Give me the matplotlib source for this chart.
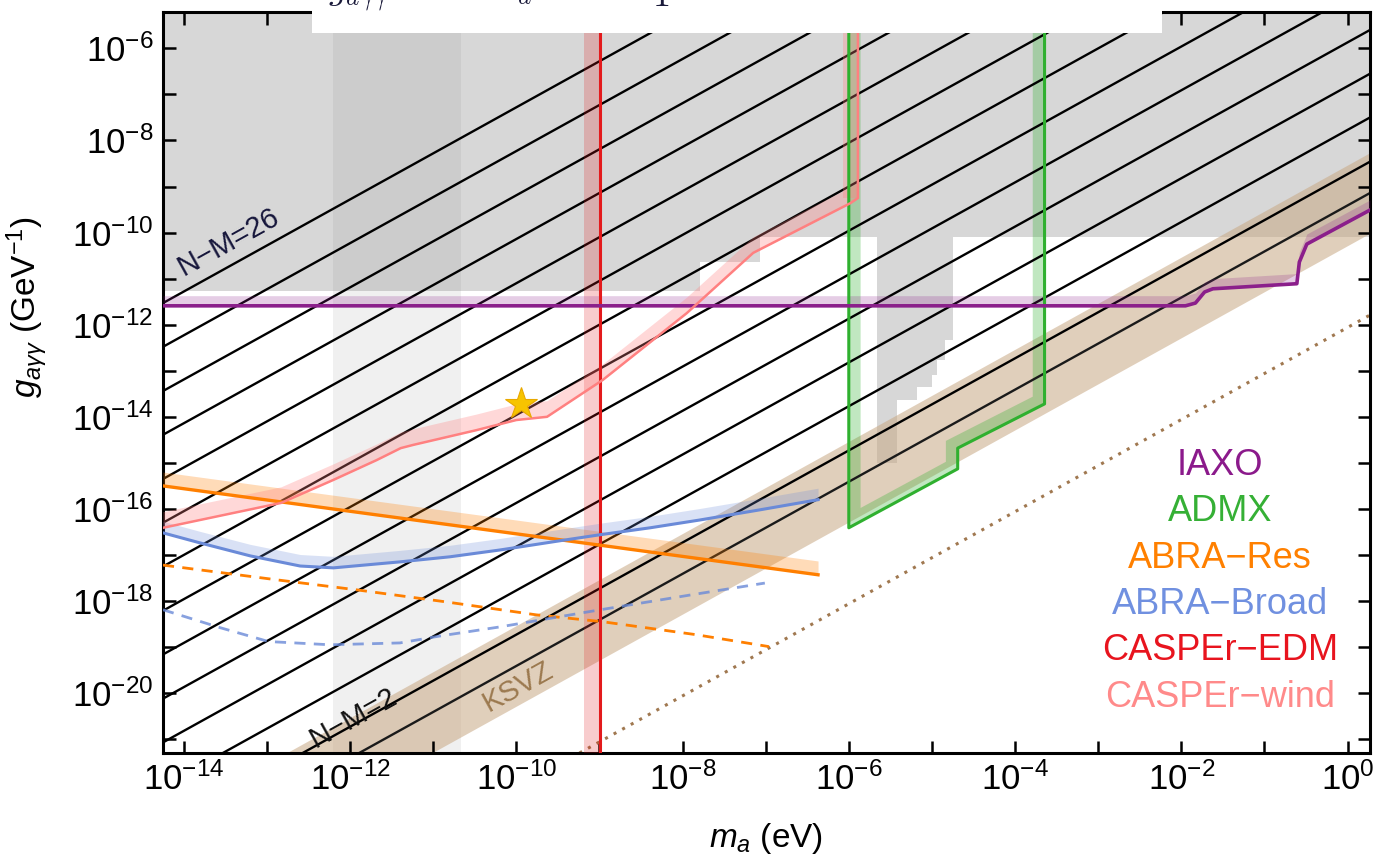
import numpy as np
import matplotlib
matplotlib.use("Agg")
import matplotlib.pyplot as plt
from matplotlib.patches import Rectangle, Polygon
from matplotlib.ticker import FixedLocator, FuncFormatter

plt.rcParams['font.family'] = ['Liberation Sans', 'DejaVu Sans']
plt.rcParams['mathtext.fontset'] = 'custom'
plt.rcParams['mathtext.rm'] = 'Liberation Sans'
plt.rcParams['mathtext.it'] = 'Liberation Sans:italic'
plt.rcParams['mathtext.bf'] = 'Liberation Sans:bold'

# everything below is log10(m_a / eV) and log10(g_agg / GeV^-1)
x_range = (-14.25, 0.27)
y_range = (-21.3, -5.21)

# g = 10**c * m_a  lines
nm_labels = [2, 4, 6, 8, 10, 12, 14, 16, 18, 20, 22, 24, 26]
nm_offsets = [-8.73, -7.77, -6.82, -5.87, -4.91, -3.96, -3.00, -2.05, -1.10, -0.14, 0.81, 1.77, 2.72]
ksvz_offset = -9.41
ksvz_band = (-10.30, -8.55)
dotted_offset = -12.06

# excluded (grey) region: floor between edges
grey_edges = [-14.25, -7.79, -7.07, -5.66, -5.42, -5.18, -5.00, -4.94, -4.84, -4.75, 0.27]
grey_floor = [-11.27, -10.64, -10.10, -15.00, -13.63, -13.35, -13.09, -12.77, -12.33, -10.10]
grey_band_m = [-12.20, -10.67]

# IAXO
iaxo_m = [-14.25, -1.95, -1.83, -1.72, -1.62, -0.61, -0.58, -0.49, 0.27]
iaxo_g = [-11.59, -11.59, -11.53, -11.29, -11.22, -11.11, -10.64, -10.25, -9.51]

# ADMX outline
admx_m = [-6.0, -6.0, -4.69, -4.69, -3.645, -3.645]
admx_g = [-4.0, -16.41, -15.13, -14.68, -13.72, -4.0]

# ABRA resonant (solid) and future (dashed)
abra_res_m = [-14.25, -6.37]
abra_res_g = [-15.50, -17.43]
abra_res2_m = [-14.25, -12.88, -11.91, -10.84, -9.76, -8.96, -7.84, -6.96]
abra_res2_g = [-17.22, -17.54, -17.76, -18.02, -18.30, -18.45, -18.73, -18.99]

# ABRA broadband
abra_br_m = [-14.25, -13.80, -13.20, -12.60, -12.20, -11.40, -10.80, -10.19, -9.47, -8.99, -8.39, -7.79, -7.07, -6.37]
abra_br_g = [-16.52, -16.74, -17.02, -17.24, -17.28, -17.15, -17.04, -16.89, -16.69, -16.56, -16.41, -16.24, -16.02, -15.80]
abra_br2_m = [-14.25, -13.56, -12.98, -12.24, -11.40, -10.92, -10.19, -8.99, -7.91, -7.01]
abra_br2_g = [-18.19, -18.58, -18.88, -18.95, -18.91, -18.76, -18.56, -18.19, -17.87, -17.61]

# CASPEr
edm_m = -8.99
wind_m = [-14.25, -12.83, -12.20, -11.68, -11.39, -11.24, -10.48, -10.00, -9.63, -8.96, -7.95, -7.15, -5.98, -5.89]
wind_g = [-16.41, -15.87, -15.37, -14.94, -14.68, -14.61, -14.29, -14.07, -14.00, -13.20, -11.75, -10.44, -9.36, -9.25]
wind_top = -5.0

star_m, star_g = -9.94, -13.72

legend_names = ["IAXO", "ADMX", "ABRA\u2212Res", "ABRA\u2212Broad", "CASPEr\u2212EDM", "CASPEr\u2212wind"]
legend_colors = ["#8b1a8b", "#35b035", "#ff8000", "#7090e0", "#e8141e", "#ff8a8a"]

c_iaxo = "#8b1f8b"
c_admx = "#2fb02f"
c_res = "#ff7f00"
c_broad = "#6a8ad8"
c_edm = "#e31a1c"
c_wind = "#ff8080"
c_ksvz = "#c8a884"


def p(a):
    return 10.0 ** np.asarray(a, dtype=float)


fig = plt.figure(figsize=(13.74, 8.63), dpi=100)
ax = fig.add_axes([163 / 1374, 1 - 753 / 863, 1207 / 1374, 741 / 863])
ax.set_xscale("log")
ax.set_yscale("log")
ax.set_xlim(p(x_range[0]), p(x_range[1]))
ax.set_ylim(p(y_range[0]), p(y_range[1]))

# grey excluded regions
ax.stairs(p(grey_floor), p(grey_edges), baseline=1e-4, fill=True, color="#d7d7d7", lw=0, zorder=0.5)
ax.fill_between(p(grey_band_m), p(grey_floor[0]), 1e-4, color="#cccccc", lw=0, zorder=0.6)
ax.fill_between(p(grey_band_m), 1e-23, p(grey_floor[0]), color="#f0f0f0", lw=0, zorder=0.6)

# KSVZ band
xx = p([-16, 2])
ax.fill_between(xx, xx * p(ksvz_band[0]), xx * p(ksvz_band[1]), color=c_ksvz, alpha=0.55, lw=0, zorder=1)

# N-M lines, KSVZ line, dotted line
for c in nm_offsets:
    ax.axline((1.0, p(c)), (10.0, p(c + 1)), color="k", lw=1.7, zorder=2.5)
ax.axline((1.0, p(ksvz_offset)), (10.0, p(ksvz_offset + 1)), color="#1a1a1a", lw=1.7, zorder=2.5)
ax.axline((1.0, p(dotted_offset)), (10.0, p(dotted_offset + 1)), color="#a07850", lw=2.2,
          ls=(0, (1, 2.2)), zorder=2.5)

# ADMX
verts = np.column_stack([p(admx_m), p(admx_g)])
clip = Polygon(verts, closed=True, transform=ax.transData)
pale = Polygon(verts, closed=True, fill=False, ec=c_admx, lw=17, alpha=0.3, zorder=2)
ax.add_patch(pale)
pale.set_clip_path(clip)
ax.plot(p(admx_m), p(admx_g), color=c_admx, lw=2.2, zorder=4)

# CASPEr-EDM
ax.axvspan(p(edm_m - 0.2), p(edm_m), color=c_edm, alpha=0.22, lw=0, zorder=3)
ax.axvline(p(edm_m), color=c_edm, lw=2.2, zorder=4)

# IAXO
ax.fill_between(p(iaxo_m), p(iaxo_g), p(np.array(iaxo_g) + 0.22), color=c_iaxo, alpha=0.22, lw=0, zorder=3)
ax.plot(p(iaxo_m), p(iaxo_g), color=c_iaxo, lw=2.6, zorder=4)

# ABRA
ax.fill_between(p(abra_res_m), p(abra_res_g), p(np.array(abra_res_g) + 0.3), color=c_res, alpha=0.28, lw=0, zorder=3)
ax.plot(p(abra_res_m), p(abra_res_g), color=c_res, lw=2.4, zorder=4)
ax.plot(p(abra_res2_m), p(abra_res2_g), color=c_res, lw=2.0, ls=(0, (4, 3)), zorder=4)
ax.fill_between(p(abra_br_m), p(abra_br_g), p(np.array(abra_br_g) + 0.25), color=c_broad, alpha=0.25, lw=0, zorder=3)
ax.plot(p(abra_br_m), p(abra_br_g), color=c_broad, lw=2.2, zorder=4)
ax.plot(p(abra_br2_m), p(abra_br2_g), color=c_broad, lw=2.0, alpha=0.8, ls=(0, (4, 3)), zorder=4)

# CASPEr-wind
ax.fill_between(p(wind_m), p(wind_g), p(np.array(wind_g) + 0.35), color=c_wind, alpha=0.3, lw=0, zorder=3)
ax.fill_betweenx(p([wind_g[-1], wind_top]), p(wind_m[-1] - 0.18), p(wind_m[-1]), color=c_wind, alpha=0.3, lw=0, zorder=3)
ax.plot(p(wind_m + [wind_m[-1]]), p(wind_g + [wind_top]), color=c_wind, lw=1.8, zorder=4)

ax.plot(p(star_m), p(star_g), marker="*", ms=24, color="#f7c400", mec="#e8a800", mew=0.8, zorder=6)

# line labels
ax.text(p(-13.46), p(-10.20), "N\u2212M=26", rotation=29, rotation_mode="anchor", ha="center", va="center",
        fontsize=21, color="#15153a", zorder=5)
ax.text(p(-11.96), p(-20.53), "N\u2212M=2", rotation=29, rotation_mode="anchor", ha="center", va="center",
        fontsize=21, color="#111111", zorder=5)
ax.text(p(-9.98), p(-19.86), "KSVZ", rotation=29, rotation_mode="anchor", ha="center", va="center",
        fontsize=21, color="#9c7a50", zorder=5)

# legend as coloured text
for i, (name, col) in enumerate(zip(legend_names, legend_colors)):
    ax.text(0.8757, (753 - (475 + 46.3 * i)) / 741, name, transform=ax.transAxes, ha="center",
            va="baseline", fontsize=26, color=col, zorder=5)

# axes styling
xt = [p(k) for k in range(-14, 1)]
yt = [p(k) for k in range(-21, -5)]
ax.xaxis.set_major_locator(FixedLocator(xt))
ax.yaxis.set_major_locator(FixedLocator(yt))
ax.xaxis.set_minor_locator(FixedLocator([]))
ax.yaxis.set_minor_locator(FixedLocator([]))


def fmt(v, pos):
    k = int(round(np.log10(v)))
    return r"$10^{%d}$" % k if k % 2 == 0 else ""


ax.xaxis.set_major_formatter(FuncFormatter(fmt))
ax.yaxis.set_major_formatter(FuncFormatter(fmt))
ax.tick_params(which="both", direction="in", top=True, right=True, length=9, width=1.8,
               labelsize=25, pad=7)
for s in ax.spines.values():
    s.set_linewidth(2.2)

ax.set_xlabel(r"$m_a$ (eV)", fontsize=24)
ax.xaxis.set_label_coords(0.5, -0.092)
ax.set_ylabel(r"$g_{a\gamma\gamma}$ (GeV$^{-1}$)", fontsize=24)
ax.yaxis.set_label_coords(-0.094, 0.602)

# white title box at the top, text mostly cut off above the figure edge
fig.add_artist(Rectangle((312 / 1374, 1 - 33 / 863), 850 / 1374, 33 / 863, transform=fig.transFigure,
                         facecolor="white", edgecolor="none", zorder=10))
top_y = 1 + 1 / 863
fig.text(328 / 1374, top_y, r"$g_{a\gamma\gamma}$", fontsize=26, math_fontfamily="cm", va="baseline",
         color="#1a1a3a", zorder=11)
fig.text(486 / 1374, top_y, r"$m_a$", fontsize=26, math_fontfamily="cm", va="baseline",
         color="#1a1a3a", zorder=11)
fig.text(652 / 1374, 1 - 6 / 863, r"$1$", fontsize=26, math_fontfamily="cm", va="baseline",
         color="#1a1a3a", zorder=11)

fig.savefig("out.png", dpi=100)
